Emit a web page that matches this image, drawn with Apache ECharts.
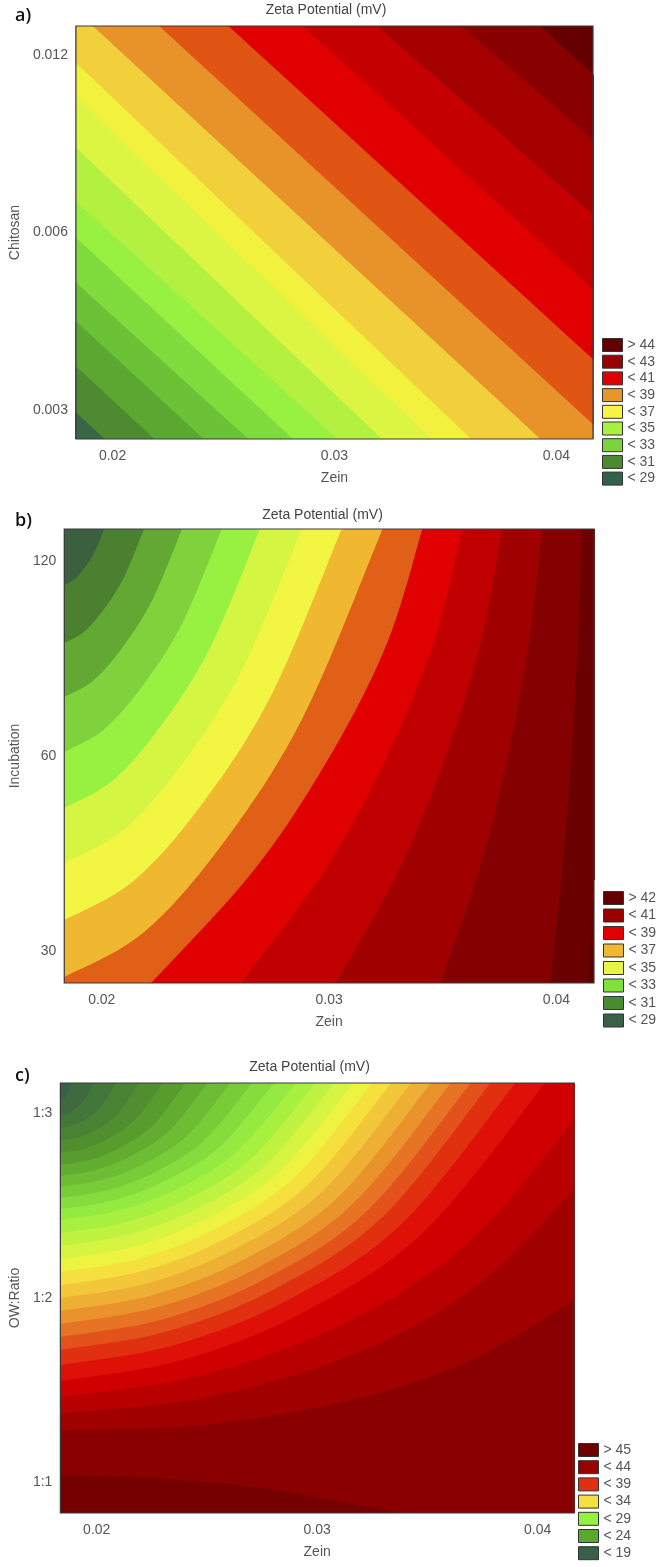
<!DOCTYPE html>
<html>
<head>
<meta charset="UTF-8">
<title>Zeta Potential contour plots</title>
<script src="https://cdn.jsdelivr.net/npm/echarts@6/dist/echarts.min.js"></script>
<style>html,body{margin:0;background:#fff}</style>
</head>
<body>
<div id="main" style="width:661px;height:1567px"></div>
<script>
// ---- values ----
// y axes are drawn in coded units: -1, 0, +1 = low / mid / high level
var zeinTicks = [0.02, 0.03, 0.04];
var codedTicks = [-1, 0, 1];
var chitosanLabels = ['0.003', '0.006', '0.012'];
var incubationLabels = ['30', '60', '120'];
var owRatioLabels = ['1:1', '1:2', '1:3'];

// panel a) Zein x Chitosan : contour boundaries, one list of [zein, coded] per level
var levelsA = [29, 30, 31, 32, 33, 34, 35, 36, 37, 38, 39, 40, 41, 42, 43, 44];
var boundsA = [
  [[0.01835, -1.014], [0.01964, -1.165]],
  [[0.01835, -0.755], [0.02188, -1.165]],
  [[0.01835, -0.501], [0.02411, -1.165]],
  [[0.01835, -0.282], [0.02612, -1.165]],
  [[0.01835, -0.028], [0.02813, -1.165]],
  [[0.01835, 0.175], [0.03013, -1.165]],
  [[0.01835, 0.479], [0.03214, -1.165]],
  [[0.01835, 0.766], [0.03437, -1.165]],
  [[0.01835, 0.958], [0.03616, -1.165]],
  [[0.01911, 1.165], [0.03928, -1.165]],
  [[0.02210, 1.165], [0.04165, -1.082]],
  [[0.02522, 1.165], [0.04165, -0.715]],
  [[0.02857, 1.165], [0.04165, -0.321]],
  [[0.03192, 1.165], [0.04165, 0.101]],
  [[0.03571, 1.165], [0.04165, 0.524]],
  [[0.03928, 1.165], [0.04165, 0.890]]
];

// panel b) Zein x Incubation
var levelsB = [29, 30, 31, 32, 33, 34, 35, 36, 37, 38, 39, 40, 41, 42];
var boundsB = [
  [[0.01835, 0.878], [0.01879, 0.907], [0.01923, 0.964], [0.01967, 1.045], [0.02011, 1.165]],
  [[0.01835, 0.580], [0.01923, 0.639], [0.02011, 0.756], [0.02098, 0.919], [0.02186, 1.165]],
  [[0.01835, 0.303], [0.01964, 0.389], [0.02094, 0.562], [0.02223, 0.803], [0.02353, 1.165]],
  [[0.01835, 0.021], [0.02008, 0.135], [0.02182, 0.364], [0.02355, 0.684], [0.02528, 1.165]],
  [[0.01835, -0.267], [0.02050, -0.124], [0.02265, 0.163], [0.02480, 0.564], [0.02695, 1.165]],
  [[0.01835, -0.549], [0.02096, -0.378], [0.02357, -0.035], [0.02618, 0.445], [0.02879, 1.165]],
  [[0.01835, -0.842], [0.02140, -0.641], [0.02445, -0.240], [0.02750, 0.322], [0.03055, 1.165]],
  [[0.01835, -1.134], [0.02185, -0.905], [0.02535, -0.445], [0.02885, 0.199], [0.03235, 1.165]],
  [[0.02217, -1.165], [0.02670, -0.585], [0.03004, 0.000], [0.03255, 0.580], [0.03410, 1.165]],
  [[0.02612, -1.165], [0.02982, -0.585], [0.03255, 0.000], [0.03459, 0.580], [0.03586, 1.165]],
  [[0.03029, -1.165], [0.03307, -0.585], [0.03512, 0.000], [0.03666, 0.580], [0.03761, 1.165]],
  [[0.03489, -1.165], [0.03660, -0.585], [0.03785, 0.000], [0.03878, 0.580], [0.03937, 1.165]],
  [[0.03972, -1.165], [0.04025, -0.585], [0.04065, 0.000], [0.04094, 0.580], [0.04112, 1.165]],
  [[0.04139, -1.165], [0.04165, -0.637]]
];

// panel c) Zein x O/W ratio
var levelsC = [19, 20, 21, 22, 23, 24, 25, 26, 27, 28, 29, 30, 31, 32, 33, 34, 35, 36, 37, 38, 39, 40, 41, 42, 43, 44, 45];
var boundsC = [
  [[0.01835, 1.073], [0.01847, 1.080], [0.01860, 1.094], [0.01872, 1.119], [0.01885, 1.165]],
  [[0.01835, 0.992], [0.01872, 1.004], [0.01909, 1.032], [0.01947, 1.079], [0.01984, 1.165]],
  [[0.01835, 0.921], [0.01898, 0.938], [0.01961, 0.977], [0.02024, 1.043], [0.02087, 1.165]],
  [[0.01835, 0.851], [0.01924, 0.873], [0.02013, 0.923], [0.02102, 1.008], [0.02191, 1.165]],
  [[0.01835, 0.786], [0.01951, 0.812], [0.02067, 0.873], [0.02183, 0.976], [0.02299, 1.165]],
  [[0.01835, 0.721], [0.01977, 0.752], [0.02119, 0.823], [0.02261, 0.943], [0.02403, 1.165]],
  [[0.01835, 0.661], [0.02002, 0.696], [0.02168, 0.777], [0.02335, 0.913], [0.02502, 1.165]],
  [[0.01835, 0.602], [0.02028, 0.641], [0.02220, 0.731], [0.02413, 0.883], [0.02606, 1.165]],
  [[0.01835, 0.542], [0.02052, 0.585], [0.02270, 0.685], [0.02487, 0.854], [0.02705, 1.165]],
  [[0.01835, 0.482], [0.02077, 0.530], [0.02319, 0.640], [0.02562, 0.824], [0.02804, 1.165]],
  [[0.01835, 0.423], [0.02102, 0.475], [0.02369, 0.593], [0.02636, 0.794], [0.02903, 1.165]],
  [[0.01835, 0.352], [0.02125, 0.409], [0.02414, 0.539], [0.02704, 0.759], [0.02993, 1.165]],
  [[0.01835, 0.282], [0.02146, 0.344], [0.02457, 0.485], [0.02768, 0.724], [0.03079, 1.165]],
  [[0.01835, 0.211], [0.02167, 0.278], [0.02500, 0.431], [0.02832, 0.688], [0.03165, 1.165]],
  [[0.01835, 0.141], [0.02189, 0.212], [0.02543, 0.377], [0.02896, 0.653], [0.03250, 1.165]],
  [[0.01835, 0.070], [0.02210, 0.147], [0.02585, 0.322], [0.02961, 0.618], [0.03336, 1.165]],
  [[0.01835, 0.000], [0.02233, 0.081], [0.02630, 0.268], [0.03028, 0.583], [0.03426, 1.165]],
  [[0.01835, -0.070], [0.02255, 0.016], [0.02676, 0.214], [0.03096, 0.547], [0.03516, 1.165]],
  [[0.01835, -0.141], [0.02278, -0.049], [0.02721, 0.159], [0.03163, 0.512], [0.03606, 1.165]],
  [[0.01835, -0.211], [0.02300, -0.115], [0.02766, 0.105], [0.03231, 0.477], [0.03696, 1.165]],
  [[0.01835, -0.282], [0.02323, -0.180], [0.02811, 0.051], [0.03299, 0.442], [0.03786, 1.165]],
  [[0.01835, -0.363], [0.02351, -0.256], [0.02867, -0.011], [0.03383, 0.401], [0.03899, 1.165]],
  [[0.01835, -0.450], [0.02385, -0.337], [0.02935, -0.079], [0.03484, 0.358], [0.04034, 1.165]],
  [[0.01835, -0.537], [0.02480, -0.417], [0.03155, -0.119], [0.03696, 0.314], [0.04165, 0.965]],
  [[0.01835, -0.623], [0.02480, -0.542], [0.03155, -0.309], [0.03696, 0.043], [0.04165, 0.585]],
  [[0.01835, -0.715], [0.02480, -0.688], [0.03155, -0.553], [0.03696, -0.336], [0.04165, -0.011]],
  [[0.01835, -0.959], [0.02254, -0.976], [0.02705, -1.024], [0.03065, -1.095], [0.03381, -1.165]]
];

var legendNamesA = ['> 44', '< 43', '< 41', '< 39', '< 37', '< 35', '< 33', '< 31', '< 29'];
var legendNamesB = ['> 42', '< 41', '< 39', '< 37', '< 35', '< 33', '< 31', '< 29'];
var legendNamesC = ['> 45', '< 44', '< 39', '< 34', '< 29', '< 24', '< 19'];

// ---- colours (lowest band first) ----
var colorsA = ['#3a6648', '#4d8a30', '#5aa830', '#6cc236', '#80dc3c', '#98f040', '#b4f040', '#dcf542', '#f2f23e',
  '#f2d03c', '#e8922a', '#e05414', '#e00000', '#c40000', '#a40000', '#880000', '#650000'];
var colorsB = ['#3a6040', '#4a8030', '#62a832', '#80d23c', '#98f040', '#d4f542', '#f2f542', '#f0b830',
  '#e06018', '#e00000', '#c00000', '#a00000', '#850000', '#6a0000', '#5a0000'];
var colorsC = ['#3a5e46', '#3f6a40', '#44763a', '#4a8234', '#518e30', '#589c2e', '#62ac30', '#6cbc34', '#78cc38',
  '#86dc3c', '#94ea40', '#a8f040', '#c0f242', '#d8f442', '#eef240', '#f5e03e', '#f2c83a', '#eeb034', '#ea922c',
  '#e67424', '#e2521a', '#e03010', '#de1008', '#d00000', '#b80000', '#a00000', '#8a0000', '#740000'];
var legendColorsA = ['#650000', '#9a0000', '#e00000', '#e8952a', '#f5f542', '#a8f040', '#7cd43c', '#4a8a30', '#336048'];
var legendColorsB = ['#650000', '#9a0000', '#e00000', '#f0b830', '#e8f542', '#80e03c', '#4a8a30', '#3a6048'];
var legendColorsC = ['#6e0000', '#9a0000', '#e03010', '#f5e040', '#96f040', '#5aa830', '#3a6048'];

var FONT = '"Liberation Sans", Arial, sans-serif';
var GREY = '#555';

var panels = [
  { grid: { left: 71, top: 26, width: 522, height: 413 }, x: [0.01835, 0.04165], y: [-1.165, 1.165],
    levels: levelsA, bounds: boundsA, colors: colorsA, walk: 'cw',
    yLabels: chitosanLabels, yName: 'Chitosan', yNameGap: 49,
    legendNames: legendNamesA, legendColors: legendColorsA, legendPos: [602, 338], legendGap: 2.7,
    titleY: 10, tag: 'a)', tagY: 16 },
  { grid: { left: 63, top: 529, width: 531, height: 454 }, x: [0.01835, 0.04165], y: [-1.165, 1.165],
    levels: levelsB, bounds: boundsB, colors: colorsB, walk: 'ccw',
    yLabels: incubationLabels, yName: 'Incubation', yNameGap: 41,
    legendNames: legendNamesB, legendColors: legendColorsB, legendPos: [603, 891], legendGap: 3.5,
    titleY: 515, tag: 'b)', tagY: 521 },
  { grid: { left: 57, top: 1083, width: 517, height: 430 }, x: [0.01835, 0.04165], y: [-1.165, 1.165],
    levels: levelsC, bounds: boundsC, colors: colorsC, walk: 'ccw',
    yLabels: owRatioLabels, yName: 'OW:Ratio', yNameGap: 35,
    legendNames: legendNamesC, legendColors: legendColorsC, legendPos: [578, 1443], legendGap: 3.2,
    titleY: 1067, tag: 'c)', tagY: 1076 }
];

// which side of the plot a boundary end point sits on
function edgeOf(p, P) {
  var tx = (P.x[1] - P.x[0]) * 0.003, ty = (P.y[1] - P.y[0]) * 0.003;
  if (Math.abs(p[0] - P.x[0]) < tx) return 'left';
  if (Math.abs(p[0] - P.x[1]) < tx) return 'right';
  if (Math.abs(p[1] - P.y[0]) < ty) return 'bottom';
  return 'top';
}
function pushOut(p, edge, P) {
  var dx = P.x[1] - P.x[0], dy = P.y[1] - P.y[0];
  if (edge === 'left') return [p[0] - dx, p[1]];
  if (edge === 'right') return [p[0] + dx, p[1]];
  if (edge === 'bottom') return [p[0], p[1] - dy];
  return [p[0], p[1] + dy];
}
function farCorner(c, P) {
  var dx = P.x[1] - P.x[0], dy = P.y[1] - P.y[0];
  return [c.charAt(1) === 'l' ? P.x[0] - 2 * dx : P.x[1] + 2 * dx,
          c.charAt(0) === 'b' ? P.y[0] - 2 * dy : P.y[1] + 2 * dy];
}
// low-value side of one boundary, closed outside the plot (the grid clips it)
function lowSide(P, pts) {
  var s = edgeOf(pts[0], P), e = edgeOf(pts[pts.length - 1], P);
  var order = P.walk === 'cw' ? ['bottom', 'left', 'top', 'right'] : ['bottom', 'right', 'top', 'left'];
  var between = P.walk === 'cw' ? { bottom: 'bl', left: 'tl', top: 'tr', right: 'br' }
                                 : { bottom: 'br', right: 'tr', top: 'tl', left: 'bl' };
  var tail = [pushOut(pts[pts.length - 1], e, P)];
  var i = order.indexOf(e), guard = 0;
  while (order[i] !== s && guard++ < 4) {
    tail.push(farCorner(between[order[i]], P));
    i = (i + 1) % 4;
  }
  return { head: [pushOut(pts[0], s, P)], curve: pts, tail: tail };
}
function fullRect(P) {
  return { head: [], curve: [], tail: [[P.x[0], P.y[0]], [P.x[1], P.y[0]], [P.x[1], P.y[1]], [P.x[0], P.y[1]]] };
}
// Catmull-Rom through the read points, done in pixel space for drawing only
function smoothPx(pts) {
  if (pts.length < 3) return pts;
  var out = [pts[0]], seg = 10;
  for (var i = 0; i < pts.length - 1; i++) {
    var p0 = pts[Math.max(i - 1, 0)], p1 = pts[i], p2 = pts[i + 1], p3 = pts[Math.min(i + 2, pts.length - 1)];
    for (var k = 1; k <= seg; k++) {
      var t = k / seg, t2 = t * t, t3 = t2 * t;
      out.push([0, 1].map(function (d) {
        return 0.5 * (2 * p1[d] + (p2[d] - p0[d]) * t + (2 * p0[d] - 5 * p1[d] + 4 * p2[d] - p3[d]) * t2 +
          (3 * p1[d] - p0[d] - 3 * p2[d] + p3[d]) * t3);
      }));
    }
  }
  return out;
}

var grids = [], xAxes = [], yAxes = [], series = [], legends = [], graphics = [];

panels.forEach(function (P, pi) {
  grids.push(Object.assign({ show: true, borderColor: '#3a3a3a', borderWidth: 1.2, z: 10,
    backgroundColor: 'transparent' }, P.grid));

  xAxes.push({
    gridIndex: pi, type: 'value', min: P.x[0], max: P.x[1],
    axisLine: { show: false }, axisTick: { show: false }, splitLine: { show: false },
    axisLabel: { customValues: zeinTicks, formatter: function (v) { return v.toFixed(2); },
      color: GREY, fontSize: 14, fontFamily: FONT, margin: 10 },
    name: 'Zein', nameLocation: 'middle', nameGap: 32,
    nameTextStyle: { color: GREY, fontSize: 14, fontFamily: FONT }
  });
  yAxes.push({
    gridIndex: pi, type: 'value', min: P.y[0], max: P.y[1],
    axisLine: { show: false }, axisTick: { show: false }, splitLine: { show: false },
    axisLabel: { customValues: codedTicks,
      formatter: function (v) { return P.yLabels[codedTicks.indexOf(Math.round(v))]; },
      color: GREY, fontSize: 14, fontFamily: FONT, margin: 8 },
    name: P.yName, nameLocation: 'middle', nameGap: P.yNameGap,
    nameTextStyle: { color: GREY, fontSize: 14, fontFamily: FONT }
  });

  var n = P.levels.length;
  function bandName(i) { return i < n ? '< ' + P.levels[i] : '> ' + P.levels[n - 1]; }
  function band(i, shape, pts) {
    var fill = P.colors[i];
    series.push({
      type: 'custom', name: bandName(i), xAxisIndex: pi, yAxisIndex: pi,
      clip: true, silent: true, itemStyle: { color: fill },
      encode: { x: 0, y: 1 },
      data: pts,
      renderItem: function (params, api) {
        if (params.dataIndex !== 0) return null;
        var c = function (v) { return api.coord(v); };
        var pts = shape.head.map(c).concat(smoothPx(shape.curve.map(c)), shape.tail.map(c));
        return { type: 'polygon', shape: { points: pts }, style: { fill: fill } };
      }
    });
  }
  // highest band fills the plot, lower bands are painted on top, highest level first
  band(n, fullRect(P), fullRect(P).tail);
  for (var i = n - 1; i >= 0; i--) band(i, lowSide(P, P.bounds[i]), P.bounds[i]);

  legends.push({
    orient: 'vertical', left: P.legendPos[0], top: P.legendPos[1], padding: 0,
    itemWidth: 20, itemHeight: 13, itemGap: P.legendGap, icon: 'rect', selectedMode: false,
    itemStyle: { borderColor: '#333', borderWidth: 1 },
    textStyle: { color: GREY, fontSize: 14, fontFamily: FONT },
    data: P.legendNames.map(function (nm, k) { return { name: nm, itemStyle: { color: P.legendColors[k] } }; })
  });

  graphics.push({ type: 'text', x: P.grid.left + P.grid.width / 2 - 6, y: P.titleY,
    style: { text: 'Zeta Potential (mV)', fill: '#444', font: '14px ' + FONT, align: 'center', verticalAlign: 'middle' } });
  graphics.push({ type: 'text', x: 15, y: P.tagY,
    style: { text: P.tag, fill: '#111', font: '600 18px "Open Sans", sans-serif', align: 'left', verticalAlign: 'middle' } });
});

var chart = echarts.init(document.getElementById('main'));
chart.setOption({
  backgroundColor: '#fff',
  animation: false,
  grid: grids,
  xAxis: xAxes,
  yAxis: yAxes,
  legend: legends,
  graphic: graphics,
  series: series
});
</script>
</body>
</html>
